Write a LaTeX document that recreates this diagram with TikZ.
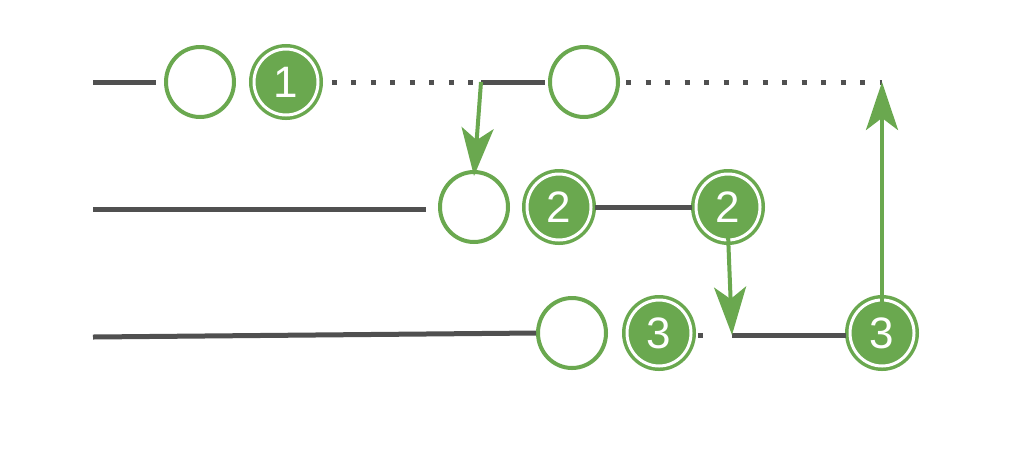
\documentclass[tikz,border=0pt]{standalone}
\usepackage{fontspec}
\setmainfont{Liberation Sans}
\usetikzlibrary{arrows.meta}
\usetikzlibrary{shapes.geometric}
\definecolor{rxgreen}{RGB}{106,168,79}
\definecolor{rxgray}{RGB}{80,80,80}
\tikzset{
  emptyball/.style={ellipse,draw=rxgreen,line width=4pt,fill=white,minimum width=68pt,minimum height=70pt,inner sep=0pt},
  valball/.style={ellipse,draw=rxgreen,line width=3.5pt,double=white,double distance=3pt,fill=rxgreen,minimum width=64pt,minimum height=66pt,inner sep=0pt,text=white,font=\fontsize{44}{44}\selectfont},
  track/.style={rxgray,line width=5pt},
  gap/.style={rxgray,line width=5pt,dash pattern=on 5pt off 14.5pt},
  hop/.style={rxgreen,line width=4pt,-{Stealth[length=48pt,width=32pt,inset=12pt]}}
}
\begin{document}
\begin{tikzpicture}[x=1pt,y=-1pt]
\useasboundingbox (0,0) rectangle (1024,467);
% first row
\coordinate (s1) at (93,82);
\node[emptyball] (a1) at (200,82) {};
\node[valball] (v1) at (286,82) {1};
\coordinate (j1) at (481,82);
\node[emptyball] (b1) at (584,82) {};
\coordinate (t1) at (882,82);
\draw[track] (s1) -- ([xshift=-8pt]a1.west);
\draw[gap] ([xshift=12pt]v1.east) -- (j1);
\draw[track] (j1) -- ([xshift=-3pt]b1.west);
\draw[gap] ([xshift=6pt]b1.east) -- (t1);
% second row
\coordinate (s2) at (93,209);
\node[emptyball] (a2) at (474,207) {};
\node[valball] (v2) at (559,207) {2};
\node[valball] (w2) at (728,207) {2};
\draw[track] (s2) -- ([xshift=-12pt]a2.west |- s2);
\draw[track] ([xshift=2pt]v2.east) -- ([xshift=-2pt]w2.west);
% third row
\coordinate (s3) at (93,337);
\node[emptyball] (a3) at (572,333) {};
\node[valball] (v3) at (659,333) {3};
\coordinate (j3) at (732,335);
\node[valball] (w3) at (882,333) {3};
\draw[track] (s3) -- (a3.west);
\draw[track] (698,335) -- (703,335);
\draw[track] (j3) -- ([xshift=-2pt]w3.west |- j3);
% hops between rows
\draw[hop] (j1) -- ([yshift=-6pt]a2.north);
\draw[hop] ([yshift=8pt]w2.south) -- (j3);
\draw[hop] ([yshift=-8pt]w3.north) -- (t1);
\end{tikzpicture}
\end{document}
